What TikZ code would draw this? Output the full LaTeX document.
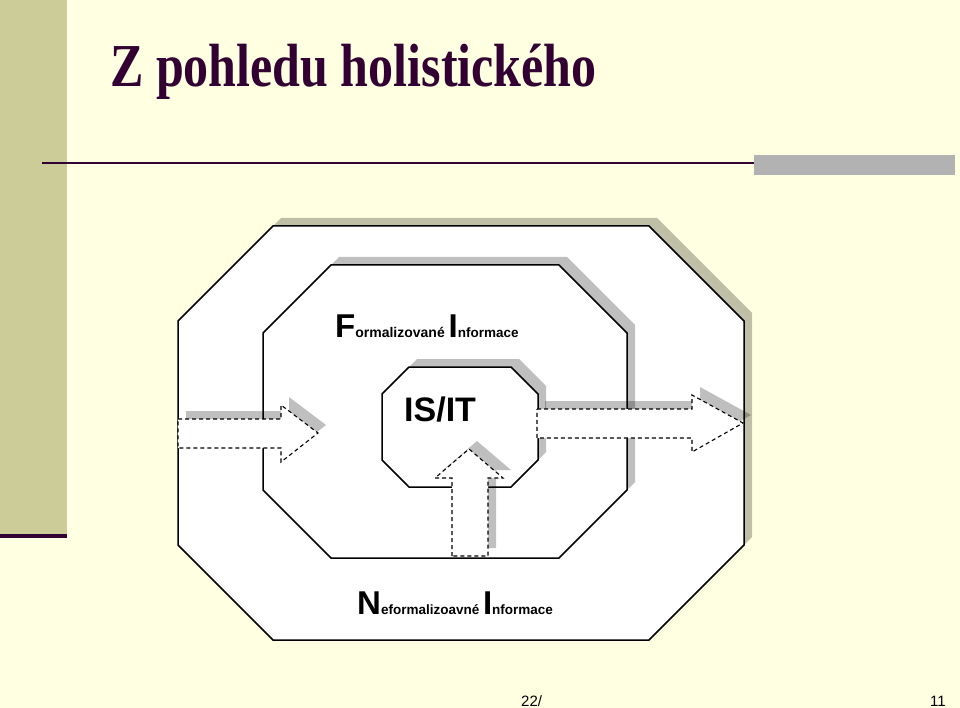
\documentclass[tikz,border=0pt]{standalone}
\usepackage{fontspec}
\setmainfont{Liberation Serif}
\newfontfamily\arialf{Liberation Sans}
\definecolor{bgyellow}{RGB}{255,255,225}
\definecolor{bandolive}{RGB}{204,204,153}
\definecolor{darkpurple}{RGB}{51,0,51}
\definecolor{barGray}{RGB}{178,178,178}
\tikzset{
  octo/.style n args={5}{insert path={({#1+#5},#2) -- ({#3-#5},#2) -- (#3,{#2+#5}) -- (#3,{#4-#5}) -- ({#3-#5},#4) -- ({#1+#5},#4) -- (#1,{#4-#5}) -- (#1,{#2+#5}) -- cycle}},
  octline/.style={draw=black, line width=1.5pt, fill=white},
  shadowfill/.style={fill=black, fill opacity=0.25, draw=none},
  dasharrow/.style={draw=black, dash pattern=on 4pt off 3pt, line width=1.1pt, fill=white},
  labeltext/.style={inner sep=0pt, anchor=base west, font=\arialf\bfseries},
  sh/.style={shift={(8,-8)}}
}
\begin{document}
\begin{tikzpicture}[x=1pt,y=-1pt]
\useasboundingbox (0,0) rectangle (960,708);
\fill[bgyellow] (0,0) rectangle (960,708);
\fill[bandolive] (0,0) rectangle (67,534);
\fill[darkpurple] (0,534) rectangle (67,538);
\draw[darkpurple, line width=2pt] (42,163) -- (755,163);
\fill[barGray] (754,155) rectangle (955,175);
\node[anchor=base west, inner sep=0pt, text=darkpurple, font=\fontsize{61}{61}\selectfont\bfseries] (title) at (110,87) {\scalebox{0.82}[1]{Z pohledu holistického}};

% outer octagon
\path[shadowfill, sh, octo={178}{226}{744}{640}{95}];
\path[octline, octo={178}{226}{744}{640}{95}];
% middle octagon
\path[shadowfill, sh, octo={263}{265}{627}{558}{68}];
\path[octline, octo={263}{265}{627}{558}{68}];
% inner octagon
\path[shadowfill, sh, octo={382}{367}{538}{487}{27}];
\path[octline, octo={382}{367}{538}{487}{27}];

% left arrow
\path[shadowfill, sh] (178,419) -- (281,419) -- (281,405) -- (318,433) -- (281,462) -- (281,448) -- (178,448) -- cycle;
\path[dasharrow] (178,419) -- (281,419) -- (281,405) -- (318,433) -- (281,462) -- (281,448) -- (178,448) -- cycle;
% right arrow
\path[shadowfill, sh] (537,409) -- (692,409) -- (692,395) -- (743,423) -- (692,452) -- (692,438) -- (537,438) -- cycle;
\path[dasharrow] (537,409) -- (692,409) -- (692,395) -- (743,423) -- (692,452) -- (692,438) -- (537,438) -- cycle;
% up arrow
\path[shadowfill, sh] (452,556) -- (452,478) -- (435,478) -- (469,449) -- (503,478) -- (488,478) -- (488,556) -- cycle;
\path[dasharrow] (452,556) -- (452,478) -- (435,478) -- (469,449) -- (503,478) -- (488,478) -- (488,556) -- cycle;

\node[labeltext] (fi) at (335,337) {{\fontsize{33}{33}\selectfont F}{\fontsize{14}{14}\selectfont ormalizované }{\fontsize{33}{33}\selectfont I}{\fontsize{13.5}{14}\selectfont nformace}};
\node[labeltext, font=\arialf\bfseries\fontsize{34}{34}\selectfont] (isit) at (404,421) {IS/IT};
\node[labeltext] (ni) at (357,614) {{\fontsize{33}{33}\selectfont N}{\fontsize{13.5}{14}\selectfont eformalizoavné }{\fontsize{33}{33}\selectfont I}{\fontsize{13.5}{14}\selectfont nformace}};
\node[inner sep=0pt, anchor=base west, font=\arialf\fontsize{15}{15}\selectfont] (pg) at (521,706) {22/};
\node[inner sep=0pt, anchor=base east, font=\arialf\fontsize{15}{15}\selectfont] (pn) at (946,706) {11};
\end{tikzpicture}
\end{document}
